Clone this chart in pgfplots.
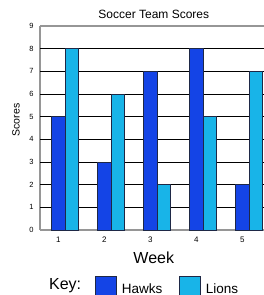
\documentclass[border=0pt]{standalone}
\usepackage{pgfplots}
\pgfplotsset{compat=1.18}
\usepackage{fontspec}
\setmainfont{Liberation Sans}
\definecolor{hawks}{RGB}{20,68,230}
\definecolor{lions}{RGB}{24,180,232}
\definecolor{barline}{RGB}{30,40,70}
\definecolor{axgray}{RGB}{150,150,150}
\begin{document}
\begin{tikzpicture}[x=1pt,y=1pt]
\useasboundingbox (0,0) rectangle (264,295);
\begin{axis}[
  at={(40pt,65pt)}, anchor=south west,
  scale only axis, width=224pt, height=204pt,
  xmin=0.6, xmax=5.47, ymin=0, ymax=9,
  axis x line*=box, axis y line*=left,
  axis line style={axgray, line width=1.2pt},
  xtick={1,...,5}, ytick={0,...,9},
  major tick length=0pt,
  extra y ticks={1,...,8}, extra y tick labels={},
  extra y tick style={grid=major, major grid style={black, line width=0.8pt}},
  /pgf/number format/assume math mode=true,
  yticklabel style={font=\fontsize{7.5}{8}\selectfont, xshift=-3pt},
  xticklabel style={font=\fontsize{8}{9}\selectfont, yshift=-3pt},
  title={Soccer Team Scores},
  title style={font=\fontsize{12}{14}\selectfont, at={(0.508,1.0588)}, anchor=center, yshift=-6pt},
  xlabel={Week},
  xlabel style={font=\fontsize{16}{18}\selectfont, at={(0.508,-0.135)}, anchor=center},
  ylabel={Scores},
  ylabel style={font=\fontsize{10.5}{12}\selectfont, at={(-0.107,0.539)}, anchor=center, rotate=0},
  legend columns=-1,
  legend style={at={(0.2455,-0.3286)}, anchor=south west, draw=none, fill=none,
    inner sep=0pt, font=\fontsize{13.5}{15}\selectfont,
    nodes={inner xsep=5pt},
    /tikz/every even column/.append style={column sep=12pt}},
  legend image code/.code={\draw[#1] (0pt,-7pt) rectangle (21pt,13pt);},
  clip=false,
]
\addplot[ybar, bar width=0.29, bar shift=0, fill=hawks, draw=barline, line width=0.6pt]
  coordinates {(1,5) (2,3) (3,7) (4,8) (5,2)};
\addlegendentry{Hawks}
\addplot[ybar, bar width=0.29, bar shift=0.29, fill=lions, draw=barline, line width=0.6pt]
  coordinates {(1,8) (2,6) (3,2) (4,5) (5,7)};
\addlegendentry{Lions}
\node[font=\fontsize{16}{18}\selectfont, anchor=base west, inner sep=0pt]
  at (rel axis cs:0.040,-0.294) {Key:};
\end{axis}
\end{tikzpicture}
\end{document}
